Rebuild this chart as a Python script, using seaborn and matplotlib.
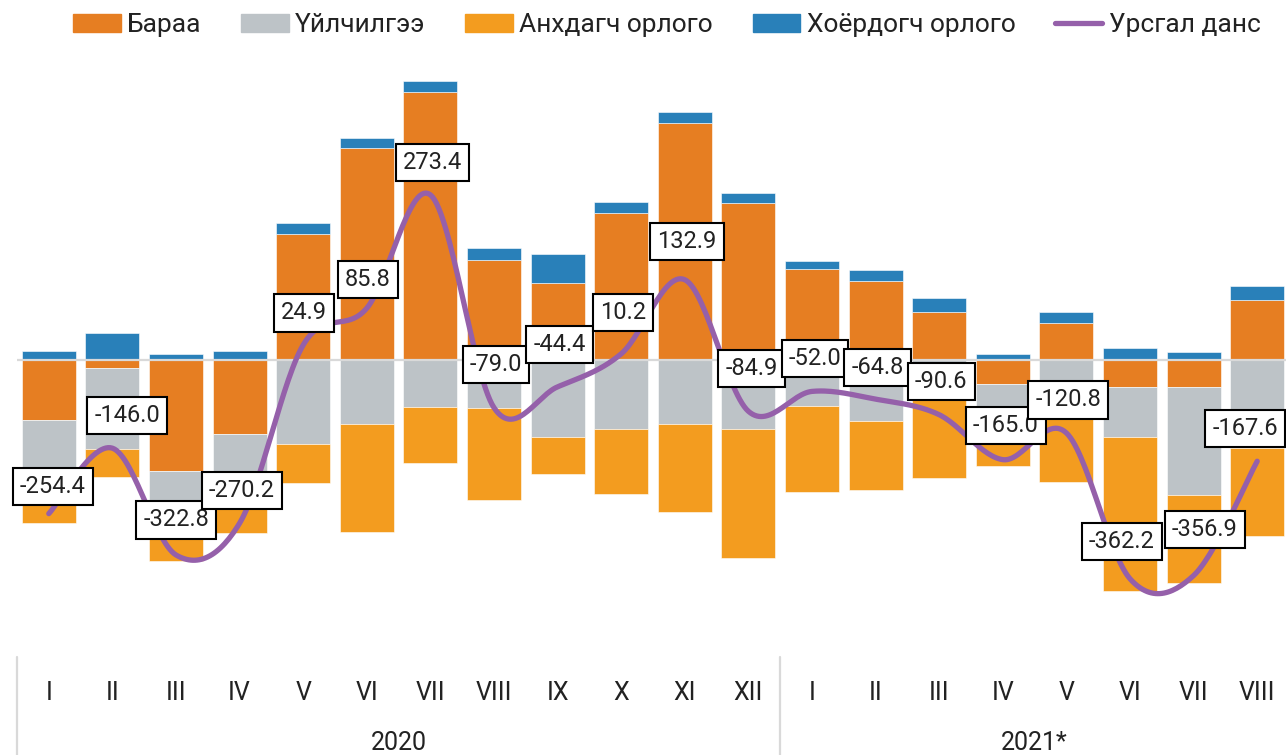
import numpy as np
import matplotlib
matplotlib.use('Agg')
import matplotlib.pyplot as plt
import matplotlib.transforms as mtransforms
from matplotlib.patches import Patch
from matplotlib.lines import Line2D
import seaborn as sns

# Data
months = ['I', 'II', 'III', 'IV', 'V', 'VI', 'VII', 'VIII', 'IX', 'X', 'XI', 'XII',
          'I', 'II', 'III', 'IV', 'V', 'VI', 'VII', 'VIII']
years = ['2020', '2021*']
year_len = [12, 8]

goods = [-99, -13, -184, -123, 209, 351, 444, 166, 127, 243, 392, 260,
         151, 131, 79, -40, 61, -44, -45, 100]
services = [-108, -134, -65, -93, -139, -106, -78, -80, -127, -114, -106, -114,
            -76, -101, -63, -56, -58, -84, -179, -146]
primary = [-63, -46, -84, -70, -65, -179, -92, -151, -62, -108, -146, -214,
           -142, -114, -132, -80, -144, -254, -146, -146]
secondary = [15, 45, 10, 15, 17, 17, 18, 19, 49, 19, 18, 17,
             13, 18, 23, 10, 18, 20, 14, 22]
balance = [-254.4, -146.0, -322.8, -270.2, 24.9, 85.8, 273.4, -79.0, -44.4, 10.2,
           132.9, -84.9, -52.0, -64.8, -90.6, -165.0, -120.8, -362.2, -356.9, -167.6]

names = ['Бараа', 'Үйлчилгээ', 'Анхдагч орлого', 'Хоёрдогч орлого', 'Урсгал данс']
colors = ['#E67E22', '#BDC3C7', '#F39C1F', '#2980B9', '#9560AA']

# label offsets (pixels, up positive)
label_dx = [4, 15, 0, 2, 1, 1, 2, 2, 2, 2, 2, 3, 3, 2, 2, 3, 2, -8, 11, -12]
label_dy = [27, 33, 35, 33, 32, 29, 32, 43, 42, 41, 38, 43, 33, 32, 33, 34, 33, 37, 46, 33]

sns.set_theme(style='white')
plt.rcParams['font.family'] = ['Roboto', 'DejaVu Sans']

W, H = 1286, 755
fig = plt.figure(figsize=(W / 100, H / 100), dpi=100)
ax = fig.add_axes([17 / W, 1 - 640 / H, 1272 / W, 580 / H])

x = np.arange(len(months))
pos_base = np.zeros(len(x))
neg_base = np.zeros(len(x))
for vals, col in zip([goods, services, primary, secondary], colors[:4]):
    v = np.array(vals, dtype=float)
    bottom = np.where(v >= 0, pos_base, neg_base)
    ax.bar(x, v, bottom=bottom, width=0.85, color=col, edgecolor='white',
           linewidth=0.4, zorder=2)
    pos_base += np.where(v >= 0, v, 0)
    neg_base += np.where(v < 0, v, 0)

ax.axhline(0, color='#D9D9D9', lw=1.6, zorder=3)

# smoothed line (Catmull-Rom through the points)
p = np.column_stack([x, balance]).astype(float)
pp = np.vstack([p[0], p, p[-1]])
sx, sy = [], []
t = np.linspace(0, 1, 30, endpoint=False)
for i in range(len(p) - 1):
    p0, p1, p2, p3 = pp[i], pp[i + 1], pp[i + 2], pp[i + 3]
    seg = 0.5 * ((2 * p1)[None, :] + (-p0 + p2)[None, :] * t[:, None]
                 + (2 * p0 - 5 * p1 + 4 * p2 - p3)[None, :] * t[:, None] ** 2
                 + (-p0 + 3 * p1 - 3 * p2 + p3)[None, :] * t[:, None] ** 3)
    sx.extend(seg[:, 0])
    sy.extend(seg[:, 1])
sx.append(p[-1, 0])
sy.append(p[-1, 1])
sns.lineplot(x=sx, y=sy, sort=False, estimator=None, color=colors[4], linewidth=3.8,
             ax=ax, zorder=5, legend=False)

for i, v in enumerate(balance):
    ax.annotate(f'{v:.1f}', xy=(i, v), xytext=(label_dx[i], label_dy[i]),
                textcoords='offset pixels', ha='center', va='center', fontsize=17,
                color='#222222', zorder=7,
                bbox=dict(boxstyle='square,pad=0.3', fc='white', ec='black', lw=1.5))

ax.set_xlim(-0.5, len(months) - 0.5)
ax.set_ylim(-463.6, 496.7)
ax.set_xticks([])
ax.set_yticks([])
sns.despine(ax=ax, left=True, bottom=True)

# two-level category axis
tr = mtransforms.blended_transform_factory(ax.transData, fig.transFigure)
for i, m in enumerate(months):
    ax.text(i, 1 - 693 / H, m, transform=tr, ha='center', va='center',
            fontsize=18, color='#222222')
start = 0
for yr, n in zip(years, year_len):
    ax.text(start + (n - 1) / 2, 1 - 743 / H, yr, transform=tr, ha='center',
            va='center', fontsize=18, color='#222222')
    fig.add_artist(Line2D([start - 0.5, start - 0.5], [1 - 657 / H, 0], transform=tr,
                          color='#D9D9D9', lw=1.6))
    start += n

handles = [Patch(color=c) for c in colors[:4]] + [Line2D([], [], color=colors[4], lw=3.8)]
fig.legend(handles, names, loc='center', bbox_to_anchor=(667 / W, 1 - 25 / H), ncol=5,
           frameon=False, fontsize=19, handlelength=1.8, handleheight=0.65,
           handletextpad=0.25, columnspacing=1.5, labelcolor='#222222')

fig.savefig('out.png', dpi=100)
